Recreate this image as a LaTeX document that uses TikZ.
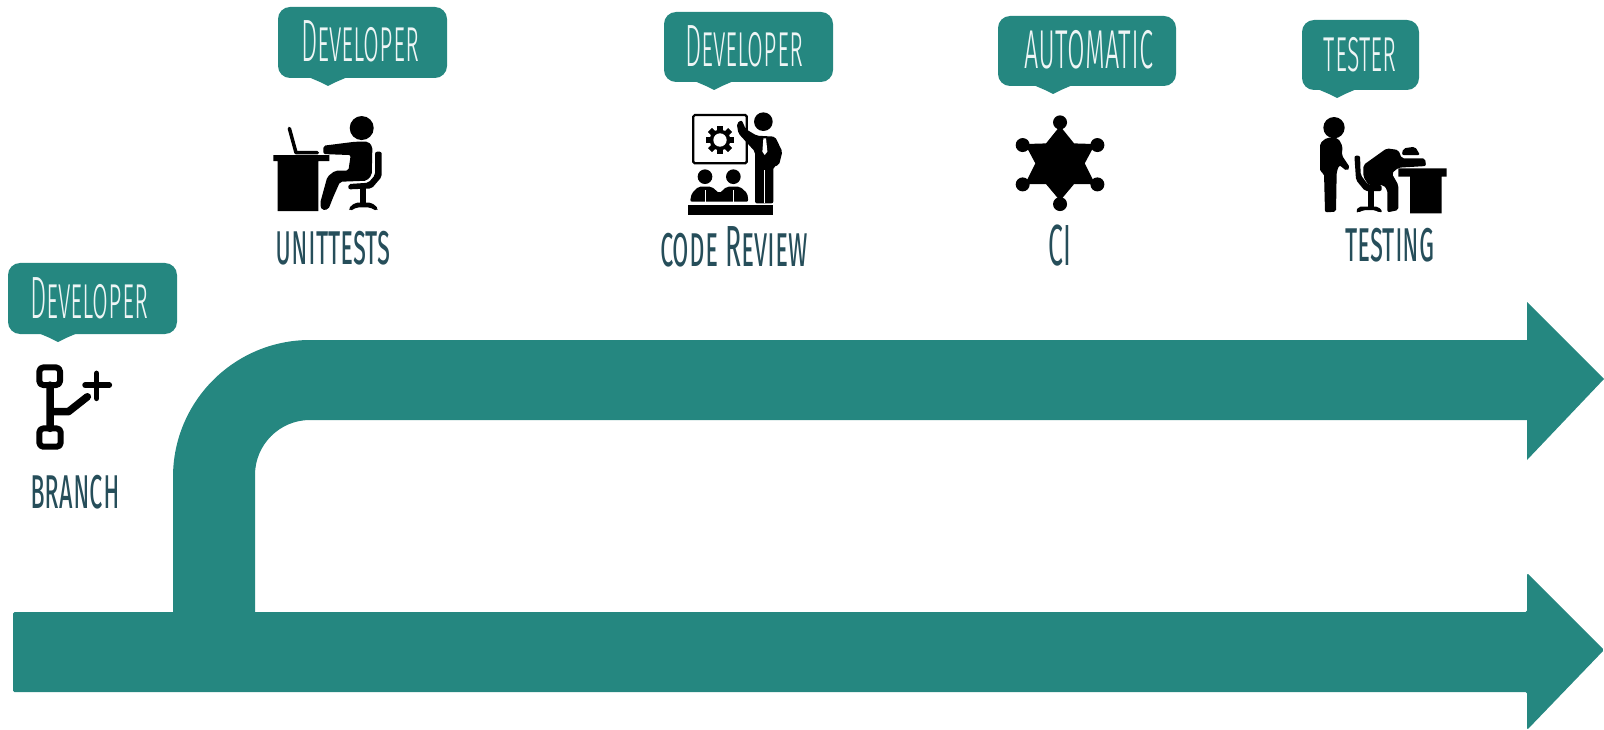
\documentclass[tikz,border=0pt]{standalone}
\usepackage{fontspec}
\newfontfamily\bubblefont[FakeStretch=0.43,Letters=SmallCaps]{Fira Sans Light}
\newfontfamily\captionfont[FakeStretch=0.46,Letters=SmallCaps]{Fira Sans}
\definecolor{flowteal}{RGB}{37,135,128}
\definecolor{labelteal}{RGB}{38,78,90}
\usetikzlibrary{calc}
% left, top, right, bottom, x of the tip
\newcommand{\speechbubble}[5]{
    \fill[flowteal,rounded corners=2.4mm] (#1,#2) rectangle (#3,#4);
    \fill[flowteal] ($(#5,#4)+(-22,-2)$) -- ($(#5,#4)+(-8,4)$) -- ($(#5,#4)+(0,8)$) -- ($(#5,#4)+(8,4)$) -- ($(#5,#4)+(22,-2)$) -- cycle;
}

\begin{document}
\begin{tikzpicture}[x=0.2mm,y=-0.2mm]
    \tikzset{bubbletext/.style={text=white!92!flowteal,font=\bubblefont\fontsize{34}{34}\selectfont,inner sep=0pt},
             captiontext/.style={text=labelteal,font=\captionfont\fontsize{33}{33}\selectfont,inner sep=0pt},
             crop/.style={x=0.0667mm,y=-0.0667mm},
             iconline/.style={draw=black,line width=#1,line cap=round,line join=round},
             iconfill/.style={fill=black,rounded corners=0.4mm}}
    \useasboundingbox (0,0) rectangle (1604,730);

    % the two flows
    \fill[flowteal,rounded corners=0.3mm] (13,612) -- (1527,612) -- (1527,573) -- (1604,650) -- (1527,730) -- (1527,692) -- (13,692) -- cycle;
    \fill[flowteal] (173,613) -- (173,477) arc (180:270:137) -- (1527,340) -- (1527,302) -- (1604,379) -- (1527,460) -- (1527,420) -- (310,420) arc (270:180:55) -- (255,613) -- cycle;

    % bubbles
    \speechbubble{278}{7}{447}{78}{328}
    \speechbubble{664}{12}{833}{82}{714}
    \speechbubble{998}{16}{1176}{86}{1053}
    \speechbubble{1302}{20}{1419}{90}{1337}
    \speechbubble{8}{263}{177}{334}{58}

    \node[bubbletext] (devtests) at (360,41) {Developer};
    \node[bubbletext] (devreview) at (744,46) {Developer};
    \node[bubbletext,font=\bubblefont\fontsize{38}{38}\selectfont] (auto) at (1089,50) {automatic};
    \node[bubbletext] (tester) at (1360,55) {tester};
    \node[bubbletext] (devbranch) at (89,298) {Developer};

    \node[captiontext] (unittests) at (333,248) {unittests};
    \node[captiontext] (review) at (734,247) {code Review};
    \node[captiontext] (ci) at (1060,246) {CI};
    \node[captiontext] (testing) at (1390,245) {testing};
    \node[captiontext] (branch) at (75,492) {branch};

    % developer at the desk
    \begin{scope}[shift={(240,0)},crop]
        \fill (100,465) rectangle (268,483) (113,483) rectangle (235,633);
        \draw[iconline=0.7mm] (148,385) -- (168,458) -- (232,458);
        \fill (365,384) circle (36);
        \fill[iconfill] (250,437) -- (345,425) -- (385,425) -- (397,440) -- (395,525) -- (380,542) -- (300,545) -- (280,590) -- (265,628) -- (245,630) -- (240,610) -- (262,530) -- (285,512) -- (325,512) -- (332,465) -- (250,462) -- cycle;
        \fill[iconfill] (405,455) -- (425,455) -- (425,530) -- (395,565) -- (325,568) -- (325,552) -- (385,548) -- (405,525) -- cycle;
        \fill (360,565) rectangle (378,612);
        \fill[iconfill] (325,625) -- (345,608) -- (395,608) -- (415,625) -- (410,633) -- (390,622) -- (350,622) -- (330,633) -- cycle;
    \end{scope}

    % presenter with a gear
    \begin{scope}[shift={(680,105)},crop]
        \draw[line width=0.45mm,rounded corners=0.3mm] (40,30) rectangle (200,175);
        \fill (120,105) circle (31);
        \foreach \a in {0,45,...,315}
            \fill[rotate around={\a:(120,105)}] (112,63) rectangle (128,147);
        \fill[white] (120,105) circle (20);
        \fill (250,50) circle (28);
        \fill[iconfill] (170,55) -- (185,45) -- (197,72) -- (230,92) -- (285,95) -- (307,140) -- (297,180) -- (280,185) -- (280,295) -- (225,295) -- (225,140) -- (175,85) -- cycle;
        \fill[white] (250,100) -- (258,100) -- (262,140) -- (254,150) -- (247,140) -- cycle;
        \draw[white,line width=0.2mm] (252,195) -- (252,295);
        \fill (75,215) circle (22) (160,215) circle (22);
        \fill[iconfill] (30,290) -- (35,265) -- (55,245) -- (95,245) -- (118,265) -- (140,245) -- (180,245) -- (202,265) -- (205,290) -- cycle;
        \draw[white,line width=0.2mm] (75,255) -- (75,290) (160,255) -- (160,290);
        \fill (25,300) rectangle (280,330);
    \end{scope}

    % sheriff star
    \begin{scope}[shift={(960,0)},crop]
        \fill (300,378) -- (342,430) -- (405,432) -- (374,490) -- (405,552) -- (342,552) -- (300,602) -- (258,552) -- (195,552) -- (226,490) -- (195,432) -- (258,430) -- cycle;
        \foreach \px/\py in {300/367,300/612,188/435,412/435,188/553,412/553}
            \fill (\px,\py) circle (21);
    \end{scope}

    % tester and the sleeper
    \begin{scope}[shift={(1300,105)},crop]
        \fill (102,68) circle (32);
        \fill[iconfill] (60,115) -- (80,98) -- (115,100) -- (128,125) -- (125,150) -- (150,188) -- (140,198) -- (118,180) -- (110,200) -- (108,320) -- (75,322) -- (72,205) -- (60,200) -- cycle;
        \fill[iconfill] (163,152) -- (180,152) -- (182,210) -- (205,240) -- (245,240) -- (245,258) -- (195,258) -- (168,225) -- cycle;
        \fill (205,255) rectangle (222,307);
        \fill[iconfill] (168,320) -- (175,305) -- (235,305) -- (248,320) -- (238,323) -- (225,315) -- (190,315) -- (175,323) -- cycle;
        \fill[iconfill] (190,180) -- (260,130) -- (295,135) -- (305,160) -- (375,160) -- (378,183) -- (295,188) -- (275,205) -- (295,240) -- (295,315) -- (262,322) -- (262,255) -- (250,240) -- (205,240) -- (190,215) -- cycle;
        \fill[iconfill] (305,150) -- (310,130) -- (345,125) -- (360,150) -- cycle;
        \fill (295,190) rectangle (440,215) (330,215) rectangle (425,325);
    \end{scope}

    % branch symbol
    \begin{scope}[shift={(0,250)},crop]
        \draw[iconline=1.2mm,rounded corners=0.8mm] (118,352) rectangle (180,405) (118,535) rectangle (182,590);
        \draw[iconline=1.5mm] (150,405) -- (150,535) (155,485) -- (205,485) -- (262,440);
        \draw[iconline=1.1mm] (255,405) -- (328,405) (290,370) -- (290,445);
    \end{scope}
\end{tikzpicture}
\end{document}
